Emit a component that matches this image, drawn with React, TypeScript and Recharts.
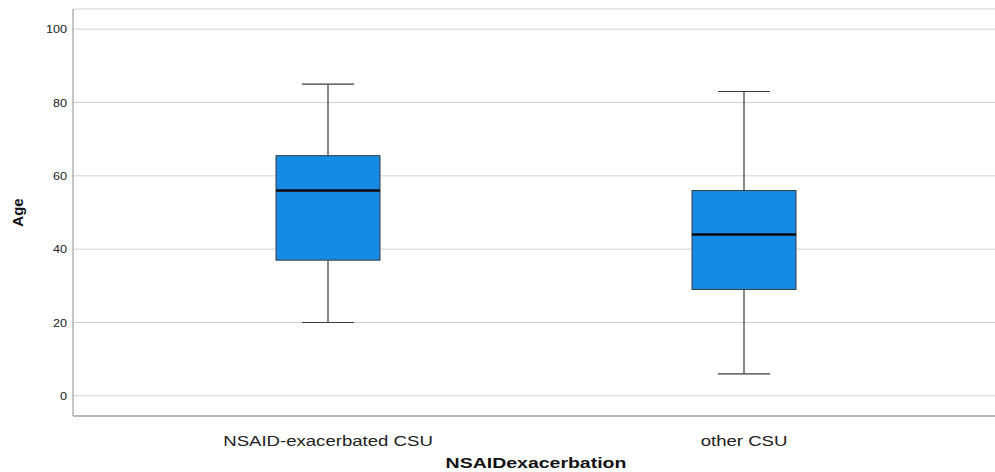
import React from "react";
import { ComposedChart, Bar, XAxis, YAxis, CartesianGrid } from "recharts";

// box plot values
const categories = ["NSAID-exacerbated CSU", "other CSU"];
const whiskerLow = [20, 6];
const q1 = [37, 29];
const median = [56, 44];
const q3 = [65.5, 56];
const whiskerHigh = [85, 83];
const yTicks = [0, 20, 40, 60, 80, 100];

const data = categories.map((name, i) => ({
  name,
  range: [whiskerLow[i], whiskerHigh[i]],
  q1: q1[i],
  median: median[i],
  q3: q3[i],
}));

const FONT = "'Liberation Sans', Arial, sans-serif";

// Draws whiskers, box and median inside the bar that spans [low, high]
const BoxShape = (props: any) => {
  const { x = 0, y = 0, width = 0, height = 0, payload } = props;
  if (!payload || !width) return null;
  const [lo, hi] = payload.range;
  const py = (v: number) => y + ((hi - v) / (hi - lo)) * height;
  const cx = x + width / 2;
  const capW = width / 2;
  const top = py(payload.q3);
  const bottom = py(payload.q1);
  return (
    <g>
      <line x1={cx} x2={cx} y1={py(hi)} y2={top} stroke="#3a3a3a" strokeWidth={1.2} />
      <line x1={cx} x2={cx} y1={bottom} y2={py(lo)} stroke="#3a3a3a" strokeWidth={1.2} />
      <line x1={cx - capW / 2} x2={cx + capW / 2} y1={py(hi)} y2={py(hi)} stroke="#3a3a3a" strokeWidth={1.2} />
      <line x1={cx - capW / 2} x2={cx + capW / 2} y1={py(lo)} y2={py(lo)} stroke="#3a3a3a" strokeWidth={1.2} />
      <rect x={x} y={top} width={width} height={bottom - top} fill="#148ce6" stroke="#3a3a3a" strokeWidth={1} />
      <line x1={x} x2={x + width} y1={py(payload.median)} y2={py(payload.median)} stroke="#0a0a0a" strokeWidth={2.5} />
    </g>
  );
};

const XTick = (props: any) => {
  const { x, y, payload } = props;
  return (
    <text
      transform={`translate(${x},${y + 22}) scale(1.24,1)`}
      textAnchor="middle"
      fontFamily={FONT}
      fontSize={15}
      fill="#222"
    >
      {payload.value}
    </text>
  );
};

const YTick = (props: any) => {
  const { x, y, payload } = props;
  return (
    <text
      transform={`translate(${x},${y + 4}) scale(1.15,1)`}
      textAnchor="end"
      fontFamily={FONT}
      fontSize={11}
      fill="#222"
    >
      {payload.value}
    </text>
  );
};

export default function App() {
  return (
    <div style={{ position: "absolute", left: 0, top: 0, background: "#fff" }}>
      <ComposedChart
        width={995}
        height={472}
        data={data}
        margin={{ top: 9, right: 0, bottom: 0, left: 0 }}
      >
        <CartesianGrid vertical={false} stroke="#cfcfcf" />
        <XAxis
          dataKey="name"
          type="category"
          height={56}
          padding={{ left: 47, right: 43 }}
          stroke="#8c8c8c"
          tickLine={false}
          tick={<XTick />}
          label={{
            content: (p: any) => {
              const vb = p.viewBox || {};
              return (
                <text
                  transform={`translate(${vb.x + vb.width / 2 + 2},${vb.y + 52}) scale(1.3,1)`}
                  textAnchor="middle"
                  fontFamily={FONT}
                  fontSize={15}
                  fontWeight="bold"
                  fill="#111"
                >
                  NSAIDexacerbation
                </text>
              );
            },
          }}
        />
        <YAxis
          type="number"
          width={73}
          domain={[-5.5, 105.5]}
          ticks={yTicks}
          allowDataOverflow
          stroke="#8c8c8c"
          tickLine={false}
          tickSize={0}
          tickMargin={6}
          tick={<YTick />}
          label={{
            content: (p: any) => {
              const vb = p.viewBox || {};
              const cy = vb.y + vb.height / 2;
              return (
                <text
                  x={19}
                  y={cy}
                  transform={`rotate(-90,19,${cy})`}
                  textAnchor="middle"
                  dominantBaseline="middle"
                  fontFamily={FONT}
                  fontSize={15}
                  fontWeight="bold"
                  fill="#111"
                >
                  Age
                </text>
              );
            },
          }}
        />
        <Bar dataKey="range" barSize={104} shape={<BoxShape />} isAnimationActive={false} />
      </ComposedChart>
    </div>
  );
}
